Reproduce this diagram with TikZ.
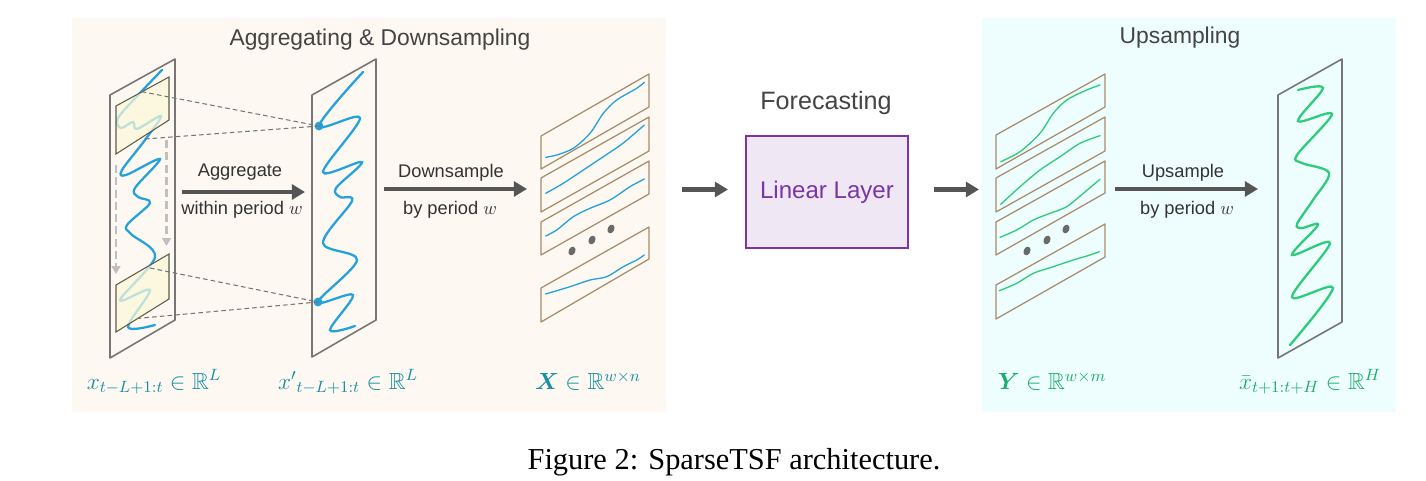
\RequirePackage{fix-cm}
\documentclass[tikz,border=0pt]{standalone}
\usepackage{amsmath,amssymb,bm}
\usepackage{fontspec}
\setmainfont{Liberation Serif}
\newfontfamily\sansf{Liberation Sans}
\usetikzlibrary{arrows.meta}
\definecolor{bgL}{HTML}{FDF8F1}
\definecolor{bgR}{HTML}{EEFDFE}
\definecolor{pgray}{HTML}{767676}
\definecolor{ptan}{HTML}{A88B68}
\definecolor{wblue}{HTML}{25A2DC}
\definecolor{wgreen}{HTML}{2ECC78}
\definecolor{teal}{HTML}{1690A2}
\definecolor{lgreen}{HTML}{1AAE68}
\definecolor{agray}{HTML}{555555}
\definecolor{tgray}{HTML}{444444}
\definecolor{purp}{HTML}{7A35A8}
\definecolor{purpfill}{HTML}{EFE7F4}
\definecolor{yfill}{HTML}{FBF8D9}
\definecolor{yedge}{HTML}{5F5A4A}
\definecolor{dotgray}{HTML}{6A6A6A}
\tikzset{
  panel/.style={draw=pgray, line width=0.9pt, line join=round},
  slab/.style={draw=ptan, line width=0.7pt, line join=round},
  ybox/.style={draw=yedge, line width=0.6pt, fill=yfill, fill opacity=0.72},
  bwave/.style={draw=wblue, line width=1.3pt, line cap=round},
  bcurve/.style={draw=wblue, line width=0.75pt, line cap=round},
  gwave/.style={draw=wgreen, line width=1.3pt, line cap=round},
  gcurve/.style={draw=wgreen, line width=0.75pt, line cap=round},
  bigarrow/.style={draw=agray, line width=2.6pt, -{Triangle[length=7.5pt,width=8.5pt]}},
  gdash/.style={draw=pgray, line width=0.6pt, dash pattern=on 2.6pt off 1.8pt},
  ldash/.style={draw=black!25, line width=1.2pt, dash pattern=on 4.5pt off 2.5pt, -{Triangle[length=4.5pt,width=5pt]}},
  title/.style={font=\sansf\fontsize{13}{15}\selectfont, text=tgray, inner sep=0pt},
  albl/.style={font=\sansf\fontsize{10.4}{12}\selectfont, text=black!80, inner sep=0pt},
  mlbl/.style={font=\fontsize{13.3}{15}\selectfont, inner sep=0pt},
  vdot/.style={fill=dotgray},
}
\begin{document}
\begin{tikzpicture}[x=0.02cm, y=-0.02cm]
\useasboundingbox (0,0) rectangle (1426,480);
\fill[white] (0,0) rectangle (1426,480);
% backgrounds
\fill[bgL] (72,18) rectangle (666,412);
\fill[bgR] (982,18) rectangle (1396,412);
% titles
\node[title] (tAgg) at (380,40) {Aggregating \& Downsampling};
\node[title] (tUp) at (1180,38) {Upsampling};
\node[title, font=\sansf\fontsize{14.3}{16}\selectfont] (tFc) at (826,103) {Forecasting};

% ---------- panel 1 ----------
\draw[panel] (110,95) -- (175,59) -- (175,320) -- (110,358) -- cycle;
\draw[bwave] plot[smooth, tension=0.55] coordinates {(162,70) (141,92) (118,118) (121,128) (133,122) (137,129) (161,116) (145,140) (122,170) (126,175) (160,159) (135,188) (138,197) (150,203) (127,225) (131,234) (155,257) (120,300) (150,290) (128,327) (155,325)};
\draw[ybox] (116,106) -- (169,77) -- (169,120) -- (116,154) -- cycle;
\draw[ybox] (116,285) -- (169,254) -- (169,299) -- (116,332) -- cycle;
% gray dashed arrows
\coordinate (la1) at (116,165);
\coordinate (la2) at (116,274);
\coordinate (ra1) at (166.5,140);
\coordinate (ra2) at (166.5,246);
\draw[ldash] (la1) -- (la2);
\draw[ldash] (ra1) -- (ra2);

% ---------- panel 2 ----------
\draw[panel] (312,95) -- (376,59) -- (376,320) -- (312,357) -- cycle;
\draw[bwave] plot[smooth, tension=0.55] coordinates {(363,72) (319,126) (360,118) (323,172) (362,162) (336,188) (340,197) (352,201) (323,243) (357,260) (318,302) (353,295) (330,330) (355,326)};
\node[circle, fill=wblue, inner sep=0pt, minimum size=5pt] (d1) at (319,126) {};
\node[circle, fill=wblue, inner sep=0pt, minimum size=5pt] (d2) at (318,302) {};
\coordinate (tA) at (141.7,91.7);
\coordinate (tB) at (145,139);
\coordinate (bA) at (150,268);
\coordinate (bB) at (136.7,318.5);
\draw[gdash] (tA) -- (d1.center);
\draw[gdash] (tB) -- (d1.center);
\draw[gdash] (bA) -- (d2.center);
\draw[gdash] (bB) -- (d2.center);

% aggregate arrow
\coordinate (a1s) at (182,192);
\coordinate (a1e) at (305,192);
\draw[bigarrow] (a1s) -- (a1e);
\node[albl] (lAgg) at (240,172) {Aggregate};
\node[albl] (lAgg2) at (242,210) {within period $w$};

% downsample arrow
\coordinate (a2s) at (384,189);
\coordinate (a2e) at (527,189);
\draw[bigarrow] (a2s) -- (a2e);
\node[albl] (lDs) at (451,172.5) {Downsample};
\node[albl] (lDs2) at (450,210) {by period $w$};

% ---------- X slabs ----------
\draw[slab] (541,136) -- (649,74) -- (649,107) -- (541,169) -- cycle;
\draw[slab] (541,178) -- (649,117) -- (649,151) -- (541,212) -- cycle;
\draw[slab] (541,222) -- (649,161) -- (649,194) -- (541,255) -- cycle;
\draw[slab] (541,288) -- (649,227) -- (649,259) -- (541,322) -- cycle;
\draw[bcurve] plot[smooth] coordinates {(545.7,157.3) (556.7,155) (573.3,148.3) (590,133.3) (603.3,113.3) (616.7,100) (636.7,88.3) (644.3,82.3)};
\draw[bcurve] plot[smooth] coordinates {(545.7,193.3) (563.3,183.3) (583.3,170) (603.3,156.7) (623.3,143) (644.3,125)};
\draw[bcurve] plot[smooth] coordinates {(545.7,236) (556.7,230) (573.3,216.7) (590,208.3) (610,200) (630,186.7) (644.3,179)};
\draw[bcurve] plot[smooth] coordinates {(545.7,294) (570,286.7) (590,280) (606.7,276.7) (623.3,266.7) (636.7,260) (644.3,255)};
\fill[vdot] (572,251) ellipse [x radius=1.9pt, y radius=2.6pt, rotate=-25];
\fill[vdot] (592,240) ellipse [x radius=1.9pt, y radius=2.6pt, rotate=-25];
\fill[vdot] (611,229) ellipse [x radius=1.9pt, y radius=2.6pt, rotate=-25];

% ---------- forecasting ----------
\coordinate (a3s) at (682,189.5);
\coordinate (a3e) at (728,189.5);
\draw[bigarrow] (a3s) -- (a3e);
\node[draw=purp, line width=1.2pt, fill=purpfill, minimum width=91.8pt, minimum height=63.8pt, inner sep=0pt,
      font=\sansf\fontsize{13.7}{16}\selectfont, text=purp] (lin) at (827,192) {Linear Layer};
\coordinate (a4s) at (934,189.5);
\coordinate (a4e) at (979,189.5);
\draw[bigarrow] (a4s) -- (a4e);

% ---------- Y slabs ----------
\draw[slab] (996,135) -- (1105,74) -- (1105,107) -- (996,169) -- cycle;
\draw[slab] (996,178) -- (1105,117) -- (1105,151) -- (996,212) -- cycle;
\draw[slab] (996,222) -- (1105,161) -- (1105,193) -- (996,255) -- cycle;
\draw[slab] (996,285) -- (1105,224) -- (1105,257) -- (996,319) -- cycle;
\draw[gcurve] plot[smooth] coordinates {(1000.7,161.7) (1020,151.7) (1040,133.3) (1053.3,113.3) (1066.7,100) (1086.7,90) (1100,85)};
\draw[gcurve] plot[smooth] coordinates {(1000.7,204.3) (1020,186.7) (1040,170) (1060,156.7) (1080,143.3) (1100,135.7)};
\draw[gcurve] plot[smooth] coordinates {(1000,237.3) (1016.7,230) (1033.3,220) (1050,213.3) (1066.7,206.7) (1083.3,193.3) (1100,179.3)};
\draw[gcurve] plot[smooth] coordinates {(999.3,290.7) (1016.7,283.3) (1033.3,273.3) (1053.3,266.7) (1073.3,260) (1090,255) (1099.3,251.7)};
\fill[vdot] (1027,251) ellipse [x radius=1.9pt, y radius=2.6pt, rotate=-25];
\fill[vdot] (1047,240) ellipse [x radius=1.9pt, y radius=2.6pt, rotate=-25];
\fill[vdot] (1066,229) ellipse [x radius=1.9pt, y radius=2.6pt, rotate=-25];

% upsample arrow
\coordinate (a5s) at (1115,189);
\coordinate (a5e) at (1258,189);
\draw[bigarrow] (a5s) -- (a5e);
\node[albl] (lUs) at (1183,172.5) {Upsample};
\node[albl] (lUs2) at (1187,210) {by period $w$};

% ---------- output panel ----------
\draw[panel] (1278,95) -- (1342,59) -- (1342,322) -- (1278,358) -- cycle;
\draw[gwave] plot[smooth, tension=0.55] coordinates {(1298,90) (1323,88) (1298,121) (1332,114) (1297,155) (1302,163) (1329,173) (1313,200) (1297,224) (1302,228) (1318,225) (1292,255) (1330,243) (1292,297) (1333,288) (1290,345)};

% ---------- math labels ----------
\node[mlbl, text=teal] (m1) at (154,382) {$x_{t-L+1:t} \in \mathbb{R}^{L}$};
\node[mlbl, text=teal] (m2) at (348,382) {${x'}_{t-L+1:t} \in \mathbb{R}^{L}$};
\node[mlbl, text=teal] (m3) at (588,381) {$\bm{X} \in \mathbb{R}^{w\times n}$};
\node[mlbl, text=lgreen] (m4) at (1052,381) {$\bm{Y} \in \mathbb{R}^{w\times m}$};
\node[mlbl, text=lgreen] (m5) at (1310,382) {$\bar{x}_{t+1:t+H} \in \mathbb{R}^{H}$};

% caption
\node[inner sep=0pt, font=\fontsize{17.3}{20}\selectfont] (cap) at (734,462) {Figure 2: SparseTSF architecture.};
\end{tikzpicture}
\end{document}
